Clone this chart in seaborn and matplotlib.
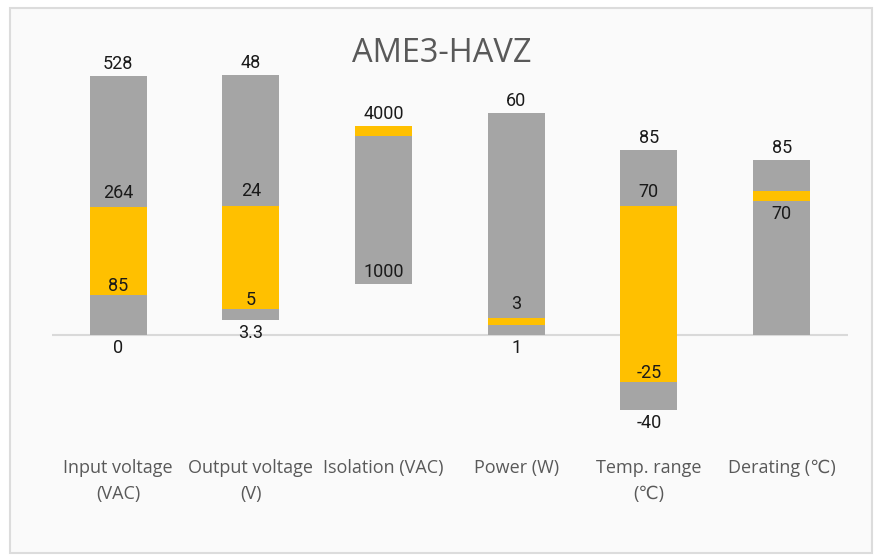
import matplotlib
matplotlib.use('Agg')
import matplotlib.pyplot as plt
import seaborn as sns
from matplotlib.patches import Rectangle

# categories and stacked segment limits (chart units, each spec scaled to its own range)
categories = ['Input voltage\n(VAC)', 'Output voltage\n(V)', 'Isolation (VAC)',
              'Power (W)', 'Temp. range\n(℃)', 'Derating (℃)']
base = [0, 15, 51.3, 0, -75, 0]            # bottom of lower grey block
band_lo = [40, 26, 199.5, 10, -46.5, 134]  # bottom of yellow band
band_hi = [128.5, 129.5, 209, 17.3, 129.3, 144]  # top of yellow band
top = [259, 260, 209, 222.3, 185, 175]     # top of upper grey block

# value labels: (category, text, anchor)
top_txt = ['528', '48', '4000', '60', '85', '85']
labels = [
    (0, '264', 'hi'), (1, '24', 'hi'), (3, '3', 'hi'), (4, '70', 'hi'),
    (0, '85', 'lo'), (1, '5', 'lo'), (4, '-25', 'lo'),
    (2, '1000', 'base_in'),
    (5, '70', 'lo_below'),
    (0, '0', 'base_below'), (1, '3.3', 'base_below'), (3, '1', 'base_below'),
    (4, '-40', 'base_below'),
]

sns.set_style('white')
plt.rcParams['font.family'] = ['Open Sans', 'DejaVu Sans']

GREY = '#a5a5a5'
YELLOW = '#ffc000'

fig = plt.figure(figsize=(8.77, 5.55), dpi=100)
fig.patch.set_facecolor('white')
fig.patches.append(Rectangle((10 / 877, 2 / 555), 862 / 877, 545 / 555,
                             transform=fig.transFigure, facecolor='#fafafa',
                             edgecolor='#dcdcdc', linewidth=1.5, zorder=-10))

ax = fig.add_axes([51.7 / 877, 115 / 555, 796.3 / 877, 380 / 555])
ax.set_facecolor('none')

w = 0.43
bar_kw = dict(width=w, errorbar=None, ax=ax, saturation=1, linewidth=0)
sns.barplot(x=categories, y=[l - b for l, b in zip(band_lo, base)], bottom=base,
            color=GREY, **bar_kw)
sns.barplot(x=categories, y=[h - l for h, l in zip(band_hi, band_lo)], bottom=band_lo,
            color=YELLOW, **bar_kw)
sns.barplot(x=categories, y=[t - h for t, h in zip(top, band_hi)], bottom=band_hi,
            color=GREY, **bar_kw)

ax.axhline(0, color='#d9d9d9', lw=1.5, zorder=0.5)
ax.set_xlim(-0.5, 5.5)
ax.set_ylim(-105, 275)
sns.despine(ax=ax, left=True, bottom=True)
ax.set_yticks([])
ax.set_xlabel('')
ax.set_ylabel('')
ax.set_xticks(range(len(categories)))
ax.set_xticklabels(categories, fontsize=13, color='#595959', linespacing=1.55)
ax.tick_params(axis='x', length=0, pad=14)

lab_kw = dict(ha='center', fontsize=13, color='#1a1a1a', family=['Roboto', 'DejaVu Sans'],
              textcoords='offset pixels', annotation_clip=False)
for i, t in enumerate(top_txt):
    ax.annotate(t, (i, top[i]), xytext=(0, 12), va='center', **lab_kw)
for i, t, where in labels:
    if where == 'hi':
        y, dy = band_hi[i], 14
    elif where == 'lo':
        y, dy = band_lo[i], 9
    elif where == 'lo_below':
        y, dy = band_lo[i], -13
    elif where == 'base_in':
        y, dy = base[i], 12
    else:
        y, dy = base[i], -13
    ax.annotate(t, (i, y), xytext=(0, dy), va='center', **lab_kw)

fig.text(442 / 877, 1 - 53 / 555, 'AME3-HAVZ', ha='center', va='center',
         fontsize=23.5, color='#595959')

fig.savefig('out.png', dpi=100)
